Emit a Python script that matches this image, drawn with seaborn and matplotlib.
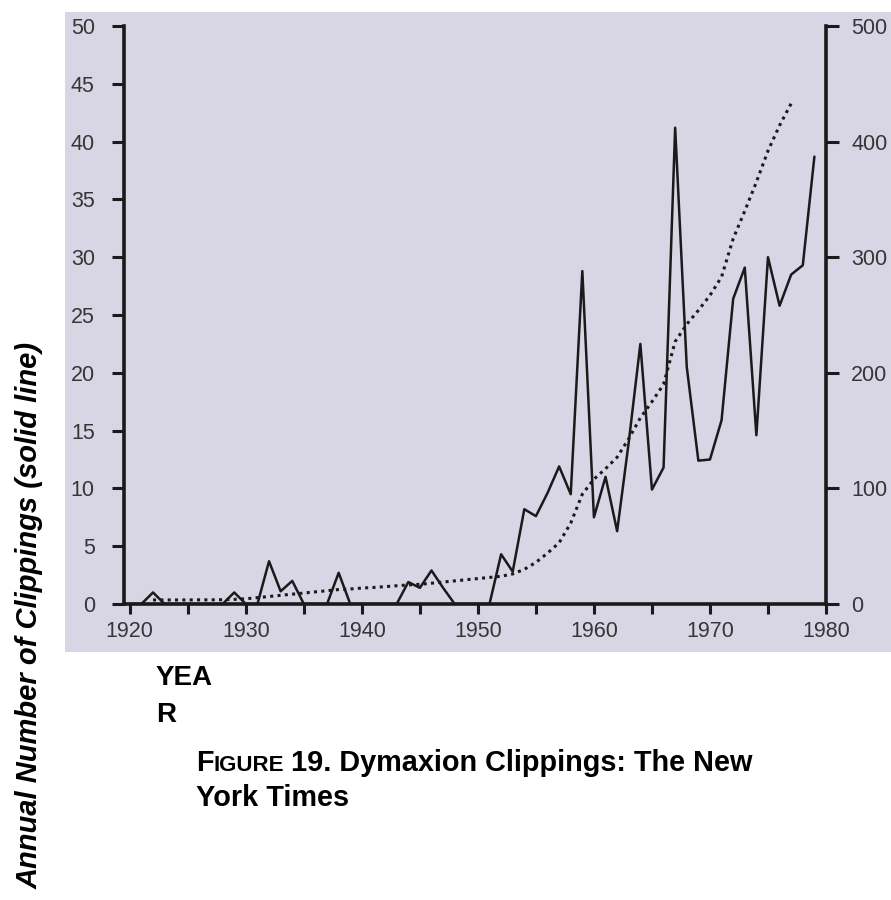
import matplotlib
matplotlib.use('Agg')
import matplotlib.pyplot as plt
import seaborn as sns
from matplotlib.patches import Rectangle
from matplotlib.ticker import MultipleLocator

# ==============================================================================
# DATA
# ==============================================================================
years = list(range(1920, 1980))
clippings = [0, 0, 1.0, 0, 0, 0, 0, 0, 0, 1.0,
             0, 0, 3.7, 1.1, 2.0, 0, 0, 0, 2.7, 0,
             0, 0, 0, 0, 1.9, 1.4, 2.9, 1.4, 0, 0,
             0, 0, 4.3, 2.8, 8.2, 7.6, 9.6, 11.9, 9.5, 28.8,
             7.5, 11.0, 6.3, 14.0, 22.5, 9.9, 11.8, 41.2, 20.5, 12.4,
             12.5, 15.9, 26.4, 29.1, 14.6, 30.0, 25.8, 28.5, 29.3, 38.7]

cum_years = list(range(1922, 1978))
cumulative = [3.5, 3.5, 3.5, 3.5, 3.6, 3.6, 3.7, 4, 4.5, 5.5,
              6.5, 7.5, 8.5, 9.5, 10.5, 11.5, 12.5, 13, 13.8, 14.3,
              15, 15.8, 16.5, 17, 18, 19, 20, 21, 22, 23,
              24, 26, 30, 36, 44, 53, 70, 95, 108, 117,
              127, 143, 161, 175, 190, 227, 242, 254, 267, 283,
              316, 340, 365, 392, 414, 433]

left_ticks = list(range(0, 55, 5))
right_ticks = list(range(0, 600, 100))
x_ticks = list(range(1920, 1990, 10))

# ==============================================================================
# FIGURE
# ==============================================================================
sns.set_theme(style='white')
plt.rcParams['font.family'] = ['Liberation Sans', 'DejaVu Sans']

W, H = 891, 900
fig = plt.figure(figsize=(W / 100, H / 100), dpi=100)
fig.patch.set_facecolor('white')

# fondo de la página escaneada
fig.add_artist(Rectangle((65 / W, 1 - 652 / H), 1 - 65 / W, (652 - 12) / H,
                         transform=fig.transFigure, facecolor='#d8d5e4',
                         edgecolor='none', zorder=0))

ax = fig.add_axes([124 / W, 1 - 604 / H, (826 - 124) / W, (604 - 26) / H])
ax.set_facecolor('none')
ink = '#1a1a1a'

sns.lineplot(x=years, y=clippings, ax=ax, color=ink, linewidth=1.8)

ax2 = ax.twinx()
ax2.set_facecolor('none')
sns.lineplot(x=cum_years, y=cumulative, ax=ax2, color=ink, linewidth=2.2)
ax2.lines[-1].set_linestyle((0, (1, 1.4)))
ax2.lines[-1].set_dash_capstyle('butt')

ax.set_xlim(1919.5, 1980)
ax.set_ylim(0, 50)
ax2.set_ylim(0, 500)
ax.set_xticks(x_ticks)
ax.xaxis.set_minor_locator(MultipleLocator(5))
ax.set_yticks(left_ticks)
ax2.set_yticks(right_ticks)
ax.set_xlabel('')
ax.set_ylabel('')
ax2.set_ylabel('')

for a in (ax, ax2):
    for s in a.spines.values():
        s.set_visible(False)
        s.set_linewidth(2.6)
        s.set_color(ink)
ax.spines['left'].set_visible(True)
ax.spines['bottom'].set_visible(True)
ax2.spines['right'].set_visible(True)

lab = '#363636'
ax.tick_params(axis='x', which='both', bottom=True, direction='out', length=7.5,
               width=2.2, color=ink, labelsize=15.5, labelcolor=lab, pad=5)
ax.tick_params(axis='y', left=True, direction='out', length=9, width=2.2,
               color=ink, labelsize=15.5, labelcolor=lab, pad=12)
ax2.tick_params(axis='y', right=True, direction='out', length=9, width=2.2,
                color=ink, labelsize=15.5, labelcolor=lab, pad=9)

# ==============================================================================
# TEXTS
# ==============================================================================
fig.text(30 / W, 1 - 615 / H, 'Annual Number of Clippings (solid line)',
         rotation=90, fontsize=21, fontweight='bold', style='italic',
         ha='center', va='center', color='black')

fig.text(156 / W, 1 - 685 / H, 'YEA', fontsize=20, fontweight='bold',
         va='baseline', color='black')
fig.text(156 / W, 1 - 722 / H, 'R', fontsize=20, fontweight='bold',
         va='baseline', color='black')

renderer = fig.canvas.get_renderer()


def poner(x_px, y_base, s, size):
    t = fig.text(x_px / W, 1 - y_base / H, s, fontsize=size, fontweight='bold',
                 va='baseline', ha='left', color='black')
    return x_px + t.get_window_extent(renderer).width


x = poner(196, 771, 'F', 20.8)
x = poner(x, 771, 'IGURE', 16)
poner(x + 7, 771, '19. Dymaxion Clippings: The New', 20.8)
poner(196, 806, 'York Times', 20.8)

fig.savefig('out.png', dpi=100)
